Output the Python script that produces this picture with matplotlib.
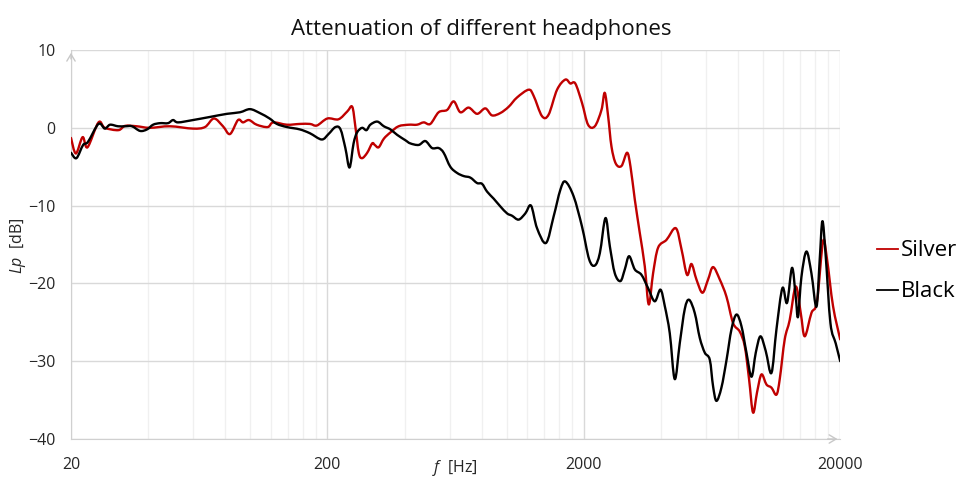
import numpy as np
import matplotlib.pyplot as plt
from matplotlib.path import Path
from matplotlib.patches import PathPatch
from matplotlib.lines import Line2D
from matplotlib.ticker import FixedLocator, NullFormatter

plt.rcParams['font.family'] = ['Open Sans', 'DejaVu Sans']
plt.rcParams['mathtext.fontset'] = 'custom'
plt.rcParams['mathtext.rm'] = 'Open Sans'
plt.rcParams['mathtext.it'] = 'Open Sans:italic'

# Silver headphones: frequency [Hz] and attenuation Lp [dB]
silver_f = [20.0, 20.9, 22.2, 23.2, 25.6, 27.1, 30.6, 32.5, 36.1, 40.6, 48.6, 59.8, 66.6,
            72.2, 78.3, 83.4, 89.6, 93.7, 98.9, 106, 117, 123, 139, 156, 171, 182, 200,
            221, 239, 250, 257, 265, 273, 286, 299, 306, 317, 332, 352, 379, 415, 447,
            475, 504, 543, 586, 622, 660, 711, 767, 826, 877, 945, 1018, 1098, 1219,
            1275, 1374, 1458, 1573, 1694, 1772, 1853, 1968, 2078, 2208, 2344, 2414, 2488,
            2564, 2666, 2806, 2950, 3042, 3161, 3306, 3458, 3584, 3726, 3898, 4202, 4569,
            4808, 5055, 5259, 5500, 5804, 6104, 6384, 6782, 7200, 7642, 8117, 8489, 8821,
            9142, 9477, 9858, 10316, 10788, 11282, 11620, 12150, 12708, 13412, 14030,
            14542, 15444, 16242, 17140, 17766, 18748, 20000]
silver_db = [-1.3, -3.3, -1.2, -2.5, 0.7, 0.0, -0.3, 0.25, 0.2, 0.0, 0.2, -0.1, 0.1,
             1.2, 0.2, -0.8, 1.0, 0.7, 1.0, 0.4, 0.1, 0.7, 0.4, 0.5, 0.5, 0.3, 1.2,
             1.1, 2.1, 2.7, 0.2, -3.2, -3.9, -3.2, -2.0, -2.2, -2.5, -1.4, -0.6, 0.2, 0.4, 0.4,
             0.7, 0.5, 2.0, 2.3, 3.4, 2.0, 2.6, 1.8, 2.5, 1.6, 1.9, 2.7, 3.9, 4.9,
             4.1, 1.5, 1.7, 4.9, 6.2, 5.7, 5.7, 3.2, 0.4, 0.2, 2.3, 4.5, 1.5,
             -2.4, -4.6, -4.9, -3.2, -5.0, -9.2, -13.5, -17.8, -22.7, -18.7, -15.4, -14.4, -12.9,
             -15.6, -18.9, -17.5, -19.5, -21.2, -19.5, -17.9, -19.5, -21.7, -25.1, -26.2, -28.1, -32.3,
             -36.6, -34.0, -31.7, -33.0, -33.4, -34.3, -32.3, -27.2, -24.7, -20.4, -23.8,
             -26.8, -23.8, -22.3, -14.6, -16.9, -22.9, -27.2]

# Black headphones
black_f = [20.0, 21.0, 22.3, 23.3, 25.6, 27.1, 28.4, 30.5, 32.5, 34.6, 37.2, 39.6, 41.8,
           44.5, 47.8, 50.0, 52.3, 59.8, 69.7, 81.2, 91.2, 99.8, 109, 119, 127, 139,
           156, 171, 190, 202, 215, 225, 235, 244, 253, 261, 273, 284, 294, 313, 332,
           352, 374, 403, 421, 454, 482, 512, 543, 568, 603, 641, 680, 722, 767, 802,
           839, 890, 945, 1004, 1050, 1114, 1183, 1245, 1314, 1424, 1525, 1619, 1694,
           1825, 1968, 2098, 2208, 2310, 2430, 2526, 2642, 2780, 2890, 3004, 3161, 3358,
           3562, 3782, 3981, 4138, 4328, 4526, 4734, 4952, 5148, 5416, 5666, 5926, 6198,
           6384, 6580, 6882, 7200, 7532, 7878, 8240, 8618, 9014, 9370, 9772, 10248,
           10788, 11282, 11902, 12406, 12976, 13412, 13692, 14114, 14762, 15444, 16154,
           16640, 17046, 17560, 18318, 19206, 20000]
black_db = [-3.2, -3.9, -2.2, -1.8, 0.5, -0.1, 0.4, 0.2, 0.2, 0.2, -0.4, -0.2, 0.4,
            0.6, 0.6, 1.0, 0.7, 1.0, 1.4, 1.8, 2.0, 2.4, 1.9, 1.2, 0.5, 0.1,
            -0.2, -0.7, -1.5, -0.8, 0.1, -0.2, -2.6, -5.1, -2.0, -0.6, 0.0, -0.3, 0.4, 0.8, 0.2,
            -0.2, -0.9, -1.6, -2.0, -2.2, -1.7, -2.6, -2.6, -3.2, -5.0, -5.8, -6.2, -6.4, -7.1, -7.2,
            -8.2, -9.1, -10.1, -11.0, -11.3, -11.8, -11.0, -10.0, -12.9, -14.8, -11.4, -8.0, -6.9,
            -8.8, -12.7, -16.9, -17.7, -16.1, -11.6, -15.2, -18.7, -19.7, -18.2, -16.5, -18.2, -18.9,
            -20.6, -22.3, -20.8, -22.9, -26.4, -32.3, -27.7, -23.3, -22.1, -23.8, -27.0, -28.9, -29.8,
            -33.2, -35.1, -33.4, -29.9, -25.9, -24.0, -25.5, -28.9, -32.0, -28.9, -26.8, -28.7,
            -31.5, -25.9, -20.6, -22.5, -18.0, -21.7, -24.3, -19.2, -15.9, -18.7, -23.0,
            -16.9, -12.0, -16.5, -25.1, -27.7, -30.0]

x_ticks = [20, 200, 2000, 20000]
y_ticks = [-40, -30, -20, -10, 0, 10]


def smooth_path(f, db):
    # Excel-like smoothed line: Catmull-Rom segments as cubic Beziers (in log-f space)
    x = np.log10(f)
    y = np.asarray(db, dtype=float)
    n = len(x)
    verts = [(x[0], y[0])]
    codes = [Path.MOVETO]
    for i in range(n - 1):
        i0, i3 = max(i - 1, 0), min(i + 2, n - 1)
        c1 = (x[i] + (x[i + 1] - x[i0]) / 6, y[i] + (y[i + 1] - y[i0]) / 6)
        c2 = (x[i + 1] - (x[i3] - x[i]) / 6, y[i + 1] - (y[i3] - y[i]) / 6)
        verts += [c1, c2, (x[i + 1], y[i + 1])]
        codes += [Path.CURVE4] * 3
    verts = [(10 ** vx, vy) for vx, vy in verts]
    return Path(verts, codes)


fig = plt.figure(figsize=(9.62, 4.82), dpi=100)
ax = fig.add_axes([0.0738, 0.0892, 0.7996, 0.807])

ax.set_xscale('log')
ax.set_xlim(20, 20000)
ax.set_ylim(-40, 10)

for f, db, col in [(silver_f, silver_db, '#c00000'), (black_f, black_db, 'black')]:
    ax.add_patch(PathPatch(smooth_path(f, db), facecolor='none', edgecolor=col, lw=1.7,
                           zorder=3, capstyle='round', joinstyle='round'))

ax.xaxis.set_major_locator(FixedLocator(x_ticks))
ax.set_xticklabels([str(t) for t in x_ticks])
minor = [m * d for d in (20, 200, 2000) for m in range(2, 10)]
ax.xaxis.set_minor_locator(FixedLocator(minor))
ax.xaxis.set_minor_formatter(NullFormatter())
ax.set_yticks(y_ticks)

ax.grid(True, which='major', color='#d9d9d9', lw=1)
ax.grid(True, which='minor', axis='x', color='#f0f0f0', lw=1)
ax.set_axisbelow(True)
ax.tick_params(which='both', length=0, labelsize=11.5, colors='#262626')
ax.tick_params(axis='x', pad=13)
ax.tick_params(axis='y', pad=11)
for s in ['top', 'right']:
    ax.spines[s].set_visible(False)
for s in ['left', 'bottom']:
    ax.spines[s].set_color('#d0d0d0')

# axis arrows
ax.annotate('', xy=(0, 1.0), xytext=(0, 0.97), xycoords='axes fraction',
            arrowprops=dict(arrowstyle='->,head_length=0.5,head_width=0.3', color='#c8c8c8', lw=1))
ax.annotate('', xy=(1.0, 0), xytext=(0.98, 0), xycoords='axes fraction',
            arrowprops=dict(arrowstyle='->,head_length=0.5,head_width=0.3', color='#c8c8c8', lw=1))

fig.suptitle('Attenuation of different headphones', fontsize=16, y=0.96, color='#111111')
fig.text(0.473, 0.03, r'$\mathit{f}$  [Hz]', ha='center', va='center', fontsize=11.5, color='#262626')
fig.text(0.019, 0.49, r'$\mathit{Lp}$  [dB]', ha='center', va='center', rotation=90,
         fontsize=11.5, color='#262626')

handles = [Line2D([], [], color='#c00000', lw=1.3), Line2D([], [], color='black', lw=1.3)]
fig.legend(handles, ['Silver', 'Black'], loc='center left', bbox_to_anchor=(0.912, 0.437),
           frameon=False, fontsize=16, handlelength=0.95, handletextpad=0.1,
           labelspacing=0.9, borderpad=0, borderaxespad=0)

fig.savefig('out.png', dpi=100)
